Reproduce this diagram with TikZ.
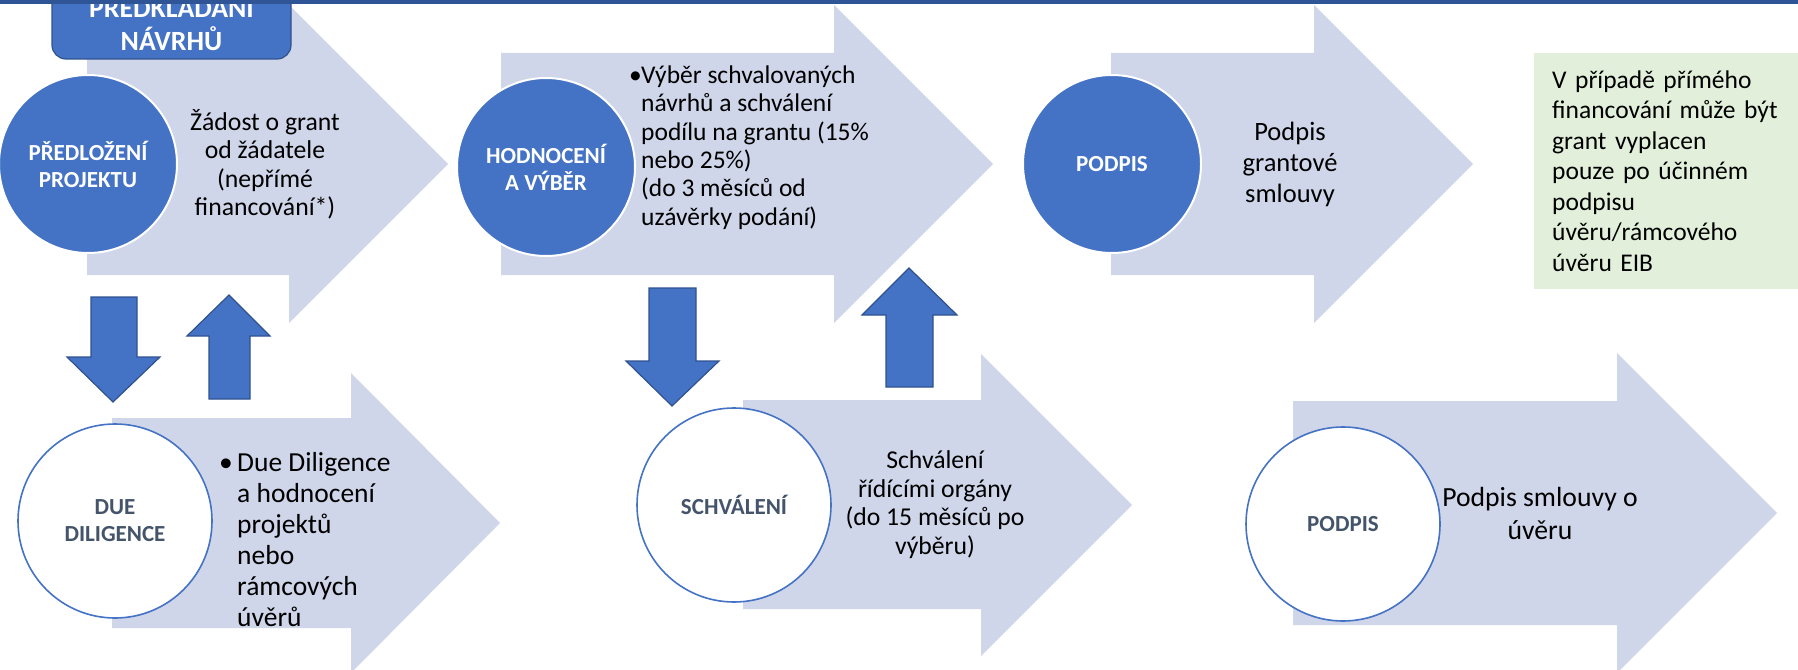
\documentclass[tikz,border=0pt]{standalone}
\usepackage{fontspec}
\setmainfont{Carlito}
\definecolor{arrowbg}{RGB}{208,214,234}
\definecolor{accblue}{RGB}{68,114,196}
\definecolor{accdark}{RGB}{47,82,143}
\definecolor{topbar}{RGB}{47,85,151}
\definecolor{notegreen}{RGB}{226,239,218}
\definecolor{slate}{RGB}{68,84,106}
\newcommand{\fsz}[2]{\fontsize{#1}{#2}\selectfont}
\newcommand{\bul}[1]{\makebox[#1][l]{•}}
\begin{document}
\begin{tikzpicture}[x=1pt,y=-1pt,
  bigarrow/.style={fill=arrowbg},
  blockarrow/.style={fill=accblue,draw=accdark,line width=1.2pt},
  fullcirc/.style={circle,fill=accblue,draw=white,line width=2pt,minimum size=178pt,inner sep=0pt,align=center,text=white,font={\fsz{23}{27}\bfseries}},
  opencirc/.style={circle,fill=white,draw=accblue,line width=1.6pt,minimum size=194pt,inner sep=0pt,align=center,text=slate,font={\fsz{23}{27}\bfseries}},
  body/.style={inner sep=0pt,align=center,font={\fsz{25.7}{28.5}}}]
 \useasboundingbox (0,0) rectangle (1798,669);
 \clip (0,0) rectangle (1798,669);
 % big process arrows
 \fill[bigarrow](87,53)--(289,53)--(289,5)--(448,164)--(289,323)--(289,275)--(87,275)--cycle;
 \fill[bigarrow](501,53)--(834,53)--(834,5)--(993,164)--(834,323)--(834,275)--(501,275)--cycle;
 \fill[bigarrow](1111,53)--(1314,53)--(1314,5)--(1473,164)--(1314,323)--(1314,275)--(1111,275)--cycle;
 \fill[bigarrow](112,418)--(351,418)--(351,373)--(500,523)--(351,673)--(351,628)--(112,628)--cycle;
 \fill[bigarrow](743,400)--(981,400)--(981,354)--(1132,505)--(981,656)--(981,609)--(743,609)--cycle;
 \fill[bigarrow](1293,401)--(1617,401)--(1617,353)--(1777,513)--(1617,673)--(1617,625)--(1293,625)--cycle;
 % up and down arrows
 \draw[blockarrow](91,297)--(137,297)--(137,357)--(160,357)--(113,402)--(67,357)--(91,357)--cycle;
 \draw[blockarrow](209,399)--(250,399)--(250,336)--(270,336)--(229,295)--(187,336)--(209,336)--cycle;
 \draw[blockarrow](649,288)--(696,288)--(696,361)--(719,361)--(672,406)--(626,361)--(649,361)--cycle;
 \draw[blockarrow](886,387)--(933,387)--(933,315)--(957,315)--(909,268)--(862,315)--(886,315)--cycle;
 % circles
 \node[fullcirc] (predlozeni) at (88,164) {PŘEDLOŽENÍ\\PROJEKTU};
 \node[fullcirc] (hodnoceni) at (546,167) {HODNOCENÍ\\A VÝBĚR};
 \node[fullcirc] (podpisgrant) at (1112,164) {PODPIS};
 \node[opencirc] (diligence) at (115,521) {DUE\\DILIGENCE};
 \node[opencirc] (schvaleni) at (734,505) {SCHVÁLENÍ};
 \node[opencirc] (podpisuver) at (1343,524) {PODPIS};
 % texts
 \node[body] (zadost) at (265,164.5) {Žádost o grant\\od žádatele\\(nepřímé\\financování*)};
 \node[body,align=left,anchor=west,font={\fsz{25.5}{28.3}}] (vyber) at (629,147.5)
   {\bul{12pt}Výběr schvalovaných\\\hspace*{12pt}návrhů a schválení\\\hspace*{12pt}podílu na grantu (15\%\\\hspace*{12pt}nebo 25\%)\\\hspace*{12pt}(do 3 měsíců od\\\hspace*{12pt}uzávěrky podání)};
 \node[body,font={\fsz{26.5}{31}}] (smlouva) at (1290,164) {Podpis\\grantové\\smlouvy};
 \node[fill=notegreen,anchor=north west,minimum width=264pt,minimum height=236pt,text width=228pt,inner xsep=18pt,inner ysep=0pt,align=left,font={\fsz{25.5}{30.5}}] (primefin) at (1534,53)
   {V případě přímého\\financování může být\\grant vyplacen\\pouze po účinném\\podpisu\\úvěru/rámcového\\úvěru EIB};
 \node[body,align=left,anchor=west,font={\fsz{27.5}{31}}] (ddtext) at (219,540)
   {\bul{18pt}Due Diligence\\\hspace*{18pt}a hodnocení\\\hspace*{18pt}projektů\\\hspace*{18pt}nebo\\\hspace*{18pt}rámcových\\\hspace*{18pt}úvěrů};
 \node[body] (organy) at (935,504.5) {Schválení\\řídícími orgány\\(do 15 měsíců po\\výběru)};
 \node[body,font={\fsz{27.7}{33}}] (uver) at (1540,513.5) {Podpis smlouvy o\\úvěru};
 % tab and top bar
 \draw[fill=accblue,draw=accdark,line width=1.2pt,rounded corners=14pt](52,-30)--(52,59)--(291,59)--(291,-30)--cycle;
 \node[inner sep=0pt,align=center,text=white,font={\fsz{27.8}{33}\bfseries}] (navrhy) at (171.5,22.5) {PŘEDKLÁDÁNÍ\\NÁVRHŮ};
 \fill[topbar](0,0) rectangle (1798,4.5);
\end{tikzpicture}
\end{document}
